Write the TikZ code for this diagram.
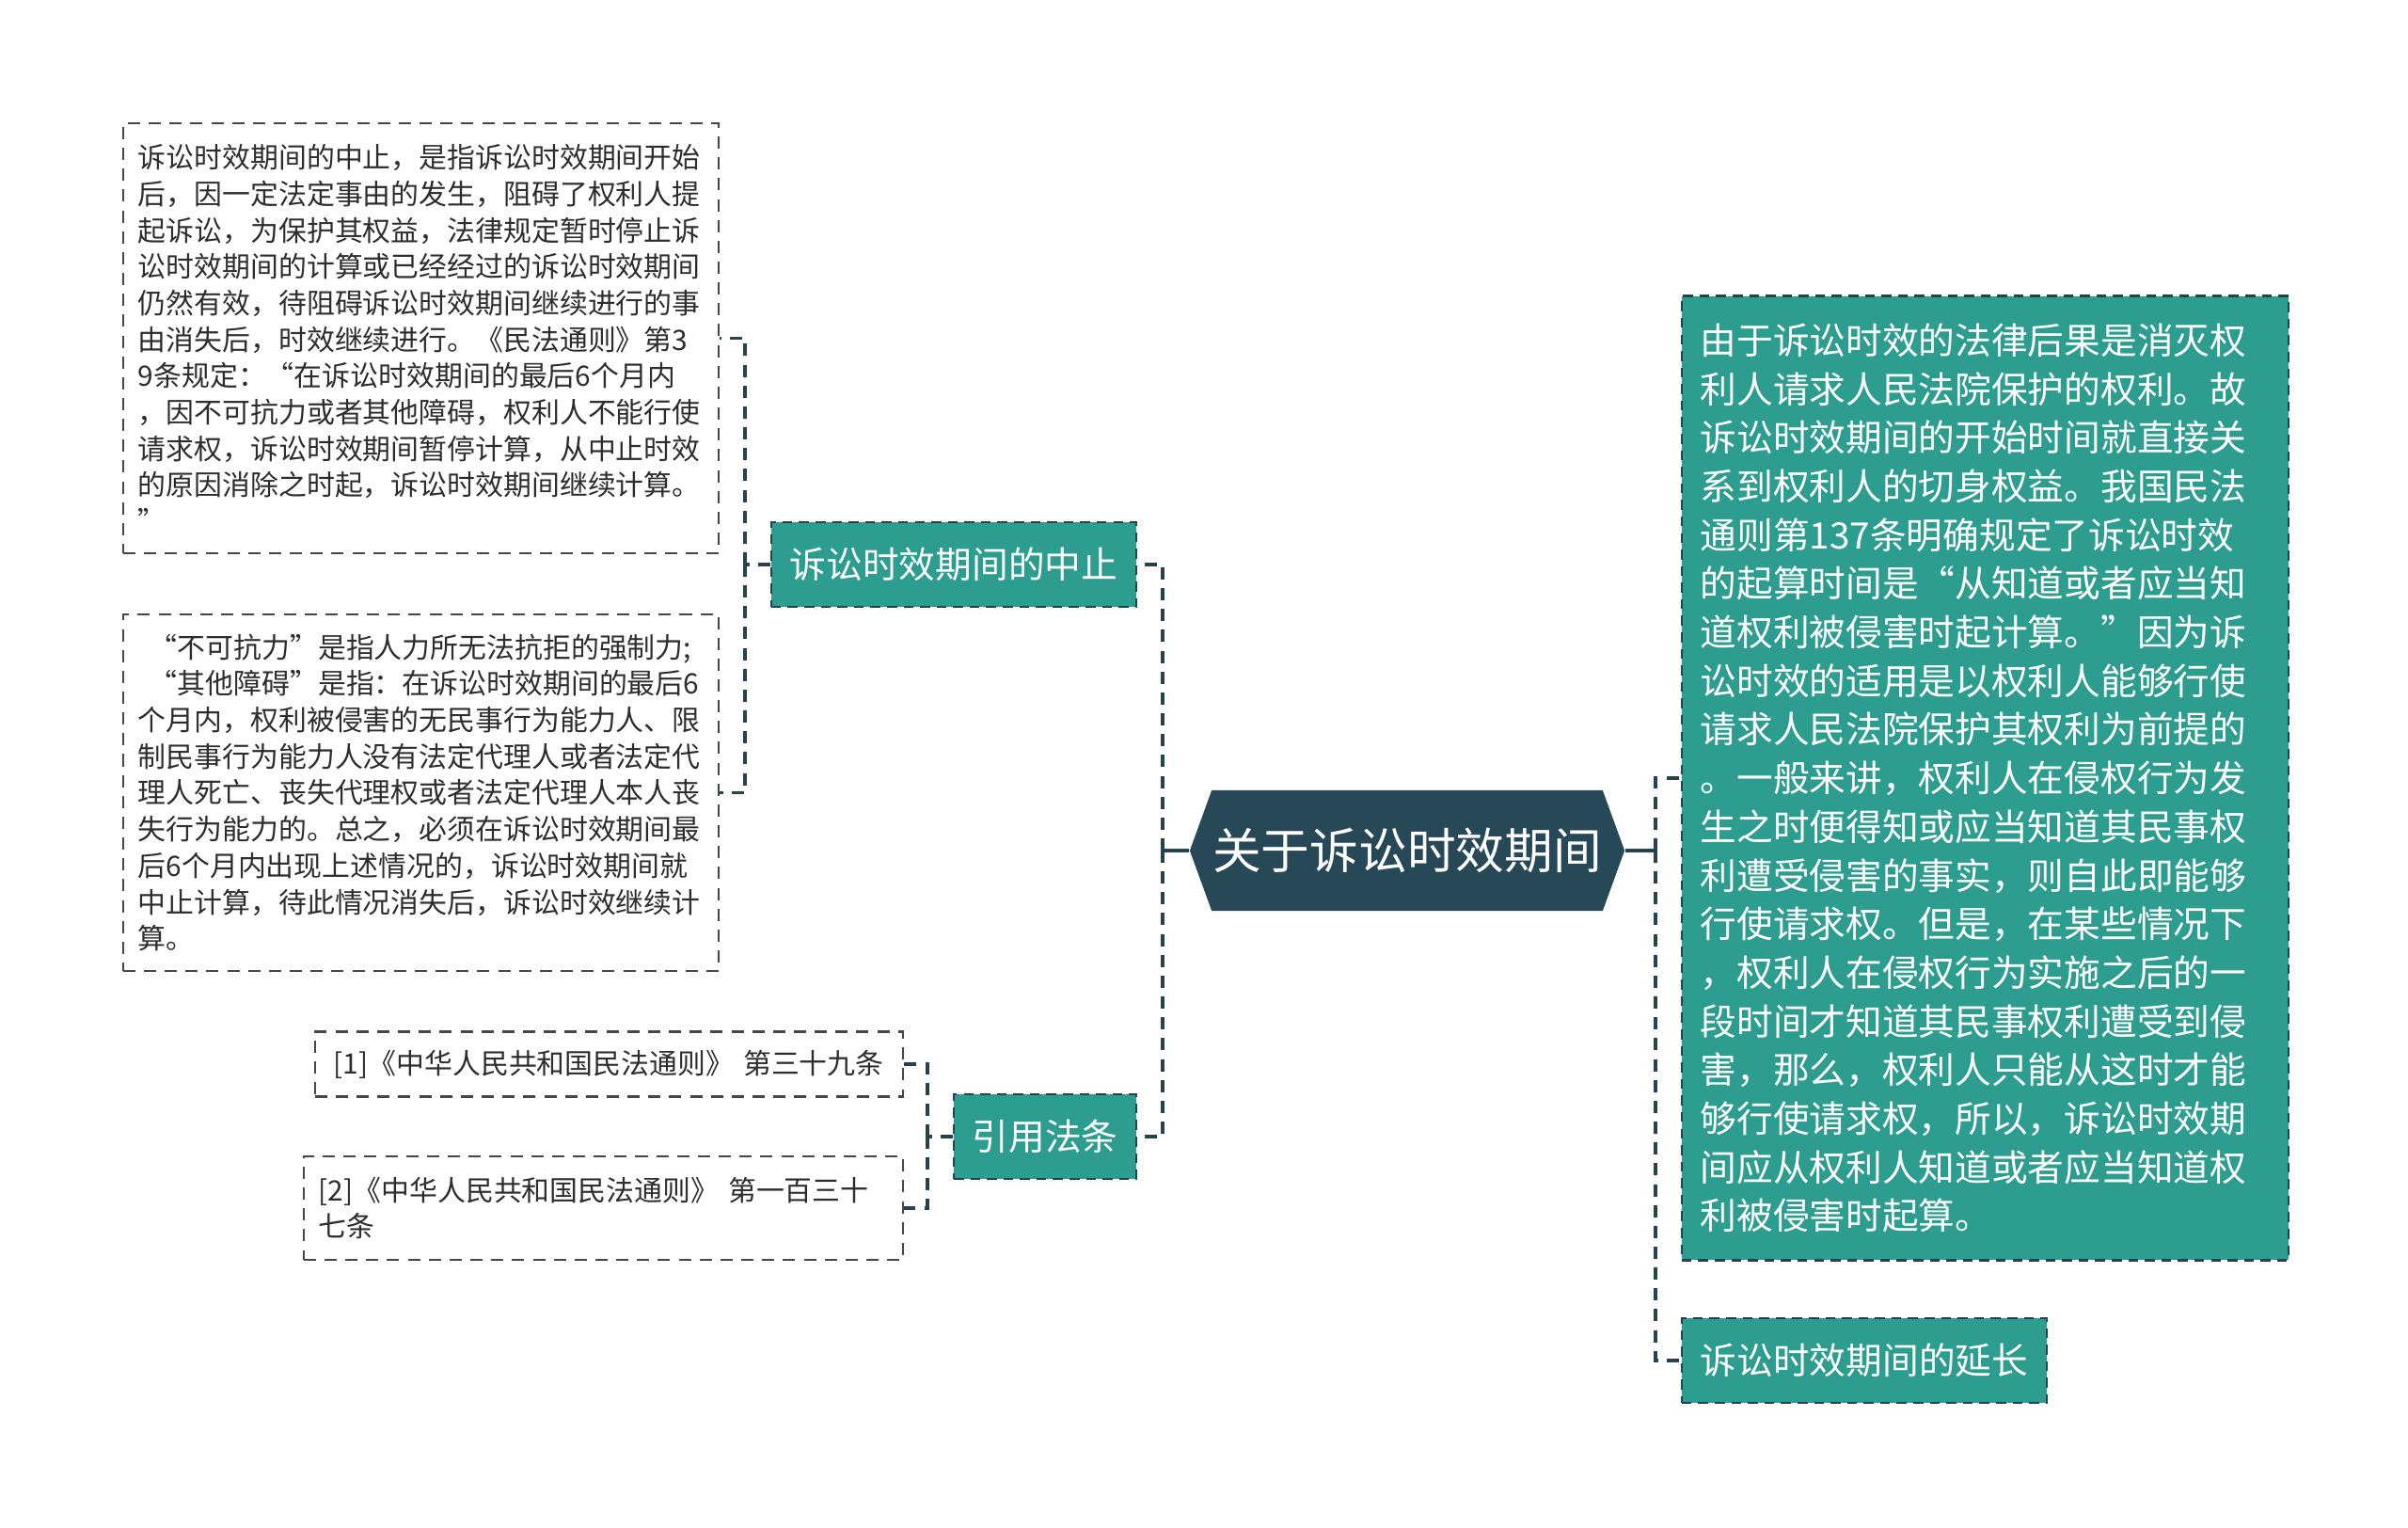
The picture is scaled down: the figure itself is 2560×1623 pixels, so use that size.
\documentclass[tikz,border=0pt]{standalone}
\usepackage{fontspec}
\usepackage{tikz}
\usetikzlibrary{shapes.symbols}
\newfontfamily\cjk{Noto Sans CJK SC}
\definecolor{topicgreen}{RGB}{44,157,142}
\definecolor{rootblue}{RGB}{39,72,86}
\definecolor{edgeblue}{RGB}{38,66,78}
\definecolor{notegray}{RGB}{70,70,70}
\definecolor{textgray}{RGB}{45,45,45}
\tikzset{
note/.style={draw=notegray, dash pattern=on 3.7pt off 2.6pt, line width=0.7pt, fill=white, text=textgray, align=left, inner xsep=0.16cm, inner ysep=0pt, font=\cjk\fontsize{8.5pt}{11pt}\selectfont},
topic/.style={draw=edgeblue, dash pattern=on 3pt off 2pt, line width=0.7pt, fill=topicgreen, text=white, inner sep=0pt, font=\cjk\fontsize{11pt}{14.7pt}\selectfont},
root/.style={shape=signal, signal to=west and east, signal pointer angle=140, fill=rootblue, text=white, inner sep=0pt, font=\cjk\fontsize{14.7pt}{17pt}\selectfont},
link/.style={draw=edgeblue, dash pattern=on 3.7pt off 2.6pt, line width=0.9pt}}

\begin{document}
\begin{tikzpicture}[x=0.01cm, y=-0.01cm]

                \useasboundingbox[fill=white] (0,0) rectangle (2560,1623);

                \node[root, minimum width=4.62cm, minimum height=1.28cm] (R) at (1496,904) {关于诉讼时效期间};

                \node[topic, minimum width=3.88cm, minimum height=0.9cm] (T1) at (1014,600) {诉讼时效期间的中止};
                \node[topic, minimum width=1.94cm, minimum height=0.9cm] (T2) at (1111,1208) {引用法条};
                \node[topic, minimum width=3.88cm, minimum height=0.9cm] (T3) at (1982,1446) {诉讼时效期间的延长};
                \node[topic, align=left, text width=6.05cm, inner xsep=0.2cm, minimum height=10.24cm] (T4) at (2110.5,827) {由于诉讼时效的法律后果是消灭权\\利人请求人民法院保护的权利。故\\诉讼时效期间的开始时间就直接关\\系到权利人的切身权益。我国民法\\通则第137条明确规定了诉讼时效\\的起算时间是“从知道或者应当知\\道权利被侵害时起计算。”因为诉\\讼时效的适用是以权利人能够行使\\请求人民法院保护其权利为前提的\\。一般来讲，权利人在侵权行为发\\生之时便得知或应当知道其民事权\\利遭受侵害的事实，则自此即能够\\行使请求权。但是，在某些情况下\\，权利人在侵权行为实施之后的一\\段时间才知道其民事权利遭受到侵\\害，那么，权利人只能从这时才能\\够行使请求权，所以，诉讼时效期\\间应从权利人知道或者应当知道权\\利被侵害时起算。};

                \node[note, text width=6.01cm, minimum height=4.57cm] (N1) at (447.5,359.5) {诉讼时效期间的中止，是指诉讼时效期间开始\\后，因一定法定事由的发生，阻碍了权利人提\\起诉讼，为保护其权益，法律规定暂时停止诉\\讼时效期间的计算或已经经过的诉讼时效期间\\仍然有效，待阻碍诉讼时效期间继续进行的事\\由消失后，时效继续进行。《民法通则》第3\\9条规定：“在诉讼时效期间的最后6个月内\\，因不可抗力或者其他障碍，权利人不能行使\\请求权，诉讼时效期间暂停计算，从中止时效\\的原因消除之时起，诉讼时效期间继续计算。\\”};
                \node[note, text width=6.01cm, minimum height=3.79cm] (N2) at (447.5,842.5) {\hspace*{0.4em}“不可抗力”是指人力所无法抗拒的强制力;\\\hspace*{0.4em}“其他障碍”是指：在诉讼时效期间的最后6\\个月内，权利被侵害的无民事行为能力人、限\\制民事行为能力人没有法定代理人或者法定代\\理人死亡、丧失代理权或者法定代理人本人丧\\失行为能力的。总之，必须在诉讼时效期间最\\后6个月内出现上述情况的，诉讼时效期间就\\中止计算，待此情况消失后，诉讼时效继续计\\算。};
                \node[note, text width=5.85cm, inner xsep=0.2cm, minimum height=0.69cm] (C1) at (647.5,1131) {[1]《中华人民共和国民法通则》 第三十九条};
                \node[note, text width=6.05cm, minimum height=1.1cm] (C2) at (641.5,1284) {[2]《中华人民共和国民法通则》 第一百三十\\七条};

                \coordinate (J1) at (1236,904);
                \coordinate (J2) at (1760,904);
                \coordinate (J3) at (792,600);
                \coordinate (J4) at (986,1208);

                \draw[edgeblue, line width=0.9pt] (R.west) -- (J1);
                \draw[edgeblue, line width=0.9pt] (R.east) -- (J2);
                \draw[link] (J1) |- (T1.east);
                \draw[link] (J1) |- (T2.east);
                \draw[link] (J2) |- (T4.west);
                \draw[link] (J2) |- (T3.west);
                \draw[link] (T1.west) -- (J3);
                \draw[link] (J3) |- (N1.east);
                \draw[link] (J3) |- (N2.east);
                \draw[link] (T2.west) -- (J4);
                \draw[link] (J4) |- (C1.east);
                \draw[link] (J4) |- (C2.east);

\end{tikzpicture}
\end{document}
